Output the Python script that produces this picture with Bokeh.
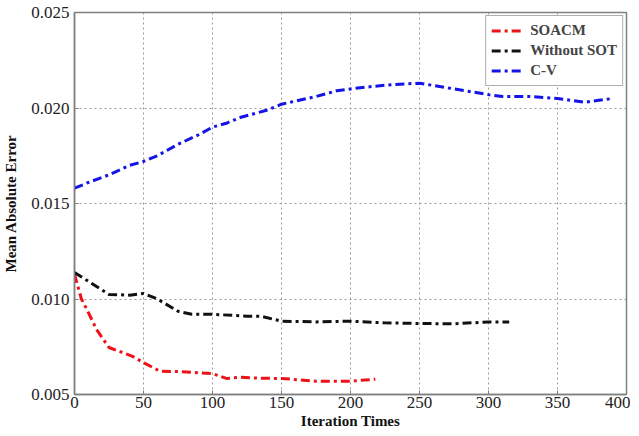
from bokeh.plotting import figure
from bokeh.models import FixedTicker, Range1d, Legend, LegendItem
from bokeh.embed import file_html
from bokeh.resources import INLINE

# Data
soacm_x = [0, 5, 9, 16, 25, 42, 50, 62, 75, 100, 110, 120, 135, 150, 175, 200, 218]
soacm_y = [0.0113, 0.0100, 0.00945, 0.0084, 0.00746, 0.0070, 0.00667, 0.00622, 0.0062,
           0.0061, 0.00584, 0.0059, 0.00585, 0.00584, 0.0057, 0.0057, 0.0058]

wsot_x = [0, 25, 40, 50, 60, 75, 85, 100, 125, 135, 150, 175, 200, 225, 250, 275, 300, 315]
wsot_y = [0.01139, 0.01024, 0.0102, 0.01029, 0.0100, 0.00936, 0.0092, 0.0092, 0.0091,
          0.0091, 0.00884, 0.0088, 0.00884, 0.00875, 0.00872, 0.0087, 0.0088, 0.0088]

cv_x = [0, 10, 25, 40, 50, 60, 75, 90, 100, 110, 120, 140, 150, 175, 190, 200, 225, 250,
        275, 300, 310, 330, 350, 360, 370, 380, 390]
cv_y = [0.0158, 0.0161, 0.0165, 0.0170, 0.0172, 0.0175, 0.0181, 0.0186, 0.0190, 0.0192,
        0.0195, 0.0199, 0.0202, 0.0206, 0.0209, 0.0210, 0.0212, 0.0213, 0.0210, 0.0207,
        0.0206, 0.0206, 0.0205, 0.0204, 0.0203, 0.0204, 0.0205]

x_ticks = [0, 50, 100, 150, 200, 250, 300, 350, 400]
y_ticks = [0.005, 0.010, 0.015, 0.020, 0.025]
y_tick_labels = ["0.005", "0.010", "0.015", "0.020", "0.025"]

series_names = ["SOACM", "Without SOT", "C-V"]
series_colors = ["#ec1218", "#111111", "#1414e8"]

SERIF = "'Liberation Serif', 'Times New Roman', serif"

p = figure(frame_width=552, frame_height=382, output_backend="svg", toolbar_location=None,
           x_range=Range1d(0, 400), y_range=Range1d(0.005, 0.025),
           min_border_left=74, min_border_top=12, min_border_right=4, min_border_bottom=0)

p.background_fill_color = "white"
p.border_fill_color = "white"
p.outline_line_color = "#808080"
p.outline_line_width = 1.5

renderers = []
for xs, ys, c in [(soacm_x, soacm_y, series_colors[0]), (wsot_x, wsot_y, series_colors[1]),
                  (cv_x, cv_y, series_colors[2])]:
    r = p.line(xs, ys, line_color=c, line_width=3, line_dash="9 4 3 4")
    renderers.append(r)

p.xaxis.ticker = FixedTicker(ticks=x_ticks)
p.yaxis.ticker = FixedTicker(ticks=y_ticks)
p.yaxis.major_label_overrides = {t: l for t, l in zip(y_ticks, y_tick_labels)}

for ax in (p.xaxis[0], p.yaxis[0]):
    ax.axis_line_color = "#808080"
    ax.axis_line_width = 1.5
    ax.major_tick_line_color = "#808080"
    ax.major_tick_in = 4
    ax.major_tick_out = 0
    ax.minor_tick_line_color = None
    ax.major_label_text_font = SERIF
    ax.major_label_text_font_size = "17px"
    ax.major_label_text_color = "#222222"
    ax.axis_label_text_font = SERIF
    ax.axis_label_text_font_style = "bold"
    ax.axis_label_text_font_size = "15px"
    ax.axis_label_text_color = "#111111"

p.xaxis.axis_label = "Iteration Times"
p.yaxis.axis_label = "Mean Absolute Error"
p.xaxis.major_label_standoff = 2
p.xaxis.axis_label_standoff = 2
p.yaxis.major_label_standoff = 5
p.yaxis.axis_label_standoff = 9

p.grid.grid_line_color = "#999999"
p.grid.grid_line_dash = "2 3"
p.grid.grid_line_width = 1

legend = Legend(items=[LegendItem(label=n, renderers=[r]) for n, r in zip(series_names, renderers)],
                location="top_right")
legend.label_text_font = SERIF
legend.label_text_font_style = "bold"
legend.label_text_font_size = "15px"
legend.border_line_color = "#606060"
legend.border_line_width = 1.5
legend.glyph_width = 32
legend.glyph_height = 19
legend.label_height = 19
legend.spacing = 1
legend.padding = 5
legend.margin = 3
legend.label_standoff = 7
p.add_layout(legend)

open("out.html", "w").write(file_html(p, INLINE))
